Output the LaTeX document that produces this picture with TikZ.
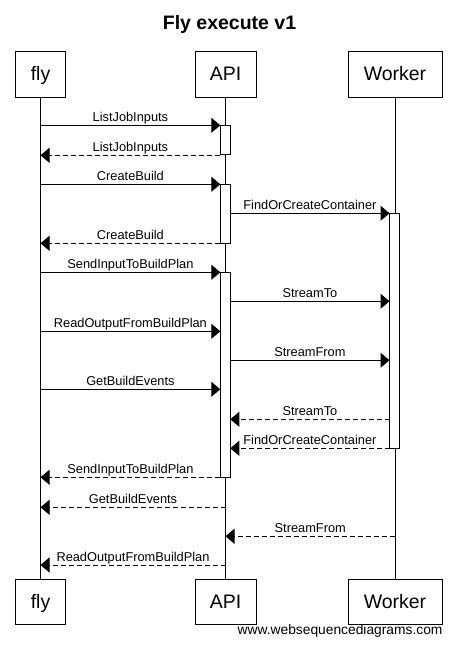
\documentclass[tikz,border=0pt]{standalone}
\usepackage{fontspec}
\setmainfont{Liberation Sans}
\usetikzlibrary{arrows.meta}
\tikzset{
  part/.style={draw, line width=1pt, inner sep=0pt, minimum height=46pt,
    font=\fontsize{19.5}{22}\selectfont, text height=13.8pt, text depth=0pt},
  life/.style={line width=1pt},
  act/.style={draw, fill=white, line width=1pt, inner sep=0pt, minimum width=10pt},
  call/.style={line width=1pt, -{Triangle[length=9pt,width=15pt]}},
  reply/.style={call, dash pattern=on 5pt off 3pt},
  lbl/.style={anchor=base, yshift=3.7pt, inner sep=0pt, font=\fontsize{12.8}{14}\selectfont}
}
\newcommand\msgline[6]{%
  \coordinate (#1s) at (#3,#2); \coordinate (#1e) at (#4,#2);
  \draw[#6] (#1s) -- node[lbl]{#5} (#1e);}
\begin{document}
\begin{tikzpicture}[x=1pt,y=-1pt]
\useasboundingbox (0,0) rectangle (457,648);
\node[anchor=base, font=\fontsize{19.5}{22}\selectfont\bfseries] (title) at (229.5,29.3) {Fly execute v1};
% participants
\node[part, minimum width=50pt] (flyT) at (40.5,74) {fly};
\node[part, minimum width=61pt] (apiT) at (225.5,74) {API};
\node[part, minimum width=94pt] (wrkT) at (395,74) {Worker};
\node[part, minimum width=50pt, minimum height=45pt] (flyB) at (40.5,601.5) {fly};
\node[part, minimum width=61pt, minimum height=45pt] (apiB) at (225.5,601.5) {API};
\node[part, minimum width=94pt, minimum height=45pt] (wrkB) at (395,601.5) {Worker};
\draw[life] (flyT.south) -- (flyB.north);
\draw[life] (apiT.south) -- (apiB.north);
\draw[life] (wrkT.south) -- (wrkB.north);
% activations
\node[act, minimum height=29pt] (act1) at (225.3,139.8) {};
\node[act, minimum height=59pt] (act2) at (225.3,213.8) {};
\node[act, minimum height=205pt] (act3) at (225.3,374.8) {};
\node[act, minimum height=235pt] (actW) at (394.5,330.8) {};
% messages
\msgline{m1}{125.3}{40.5}{220.3}{ListJobInputs}{call}
\msgline{m2}{155.3}{220.3}{40.5}{ListJobInputs}{reply}
\msgline{m3}{184.3}{40.5}{220.3}{CreateBuild}{call}
\msgline{m4}{213.3}{230.3}{389.5}{FindOrCreateContainer}{call}
\msgline{m5}{243.3}{220.3}{40.5}{CreateBuild}{reply}
\msgline{m6}{272.3}{40.5}{220.3}{SendInputToBuildPlan}{call}
\msgline{m7}{301.3}{230.3}{389.5}{StreamTo}{call}
\msgline{m8}{331.3}{40.5}{220.3}{ReadOutputFromBuildPlan}{call}
\msgline{m9}{360.3}{230.3}{389.5}{StreamFrom}{call}
\msgline{m10}{389.3}{40.5}{220.3}{GetBuildEvents}{call}
\msgline{m11}{419.3}{389.5}{230.3}{StreamTo}{reply}
\msgline{m12}{448.3}{389.5}{230.3}{FindOrCreateContainer}{reply}
\msgline{m13}{477.3}{220.3}{40.5}{SendInputToBuildPlan}{reply}
\msgline{m14}{507.3}{225.5}{40.5}{GetBuildEvents}{reply}
\msgline{m15}{536.3}{395}{225.5}{StreamFrom}{reply}
\msgline{m16}{565}{225.5}{40.5}{ReadOutputFromBuildPlan}{reply}
% footer
\node[anchor=base east, inner sep=0pt, font=\fontsize{13.8}{16}\selectfont] (footer) at (442.7,634) {www.websequencediagrams.com};
\end{tikzpicture}
\end{document}
